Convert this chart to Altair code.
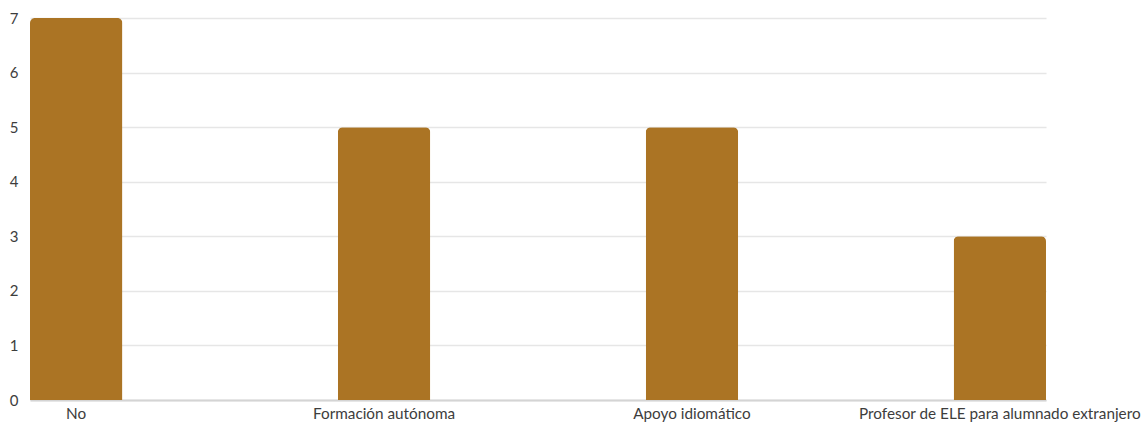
import altair as alt
import pandas as pd

categories = ["No", "Formación autónoma", "Apoyo idiomático", "Profesor de ELE para alumnado extranjero"]
counts = [7, 5, 5, 3]

df = pd.DataFrame({"categoria": categories, "respuestas": counts})

bars = alt.Chart(df).mark_bar(
    color="#AB7424",
    cornerRadiusTopLeft=5,
    cornerRadiusTopRight=5,
).encode(
    x=alt.X(
        "categoria:N",
        sort=categories,
        scale=alt.Scale(paddingInner=0.7, paddingOuter=0),
        axis=alt.Axis(
            title=None,
            labelAngle=0,
            ticks=False,
            labelPadding=6,
            labelLimit=0,
            labelFont="Lato",
            labelFontSize=15.3,
            labelColor="#3d3d3d",
            domainColor="#d4d4d4",
            domainWidth=2,
        ),
    ),
    y=alt.Y(
        "respuestas:Q",
        scale=alt.Scale(domain=[0, 7], nice=False),
        axis=alt.Axis(
            title=None,
            values=list(range(0, 8)),
            format="d",
            ticks=False,
            domain=False,
            labelPadding=12,
            labelFont="Lato",
            labelFontSize=15,
            labelColor="#3d3d3d",
            gridColor="#e6e6e6",
            gridWidth=1.5,
        ),
    ),
).properties(
    width=1016,
    height=382,
    autosize=alt.AutoSizeParams(type="none"),
    padding={"left": 30, "top": 18, "right": 97, "bottom": 23},
).configure(
    background="white"
).configure_view(
    stroke=None
)

bars.save("out.html", embed_options={"renderer": "svg", "actions": False})
